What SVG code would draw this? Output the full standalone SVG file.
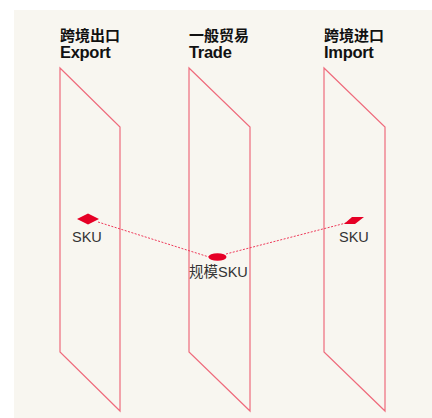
<svg xmlns="http://www.w3.org/2000/svg" width="432" height="418" viewBox="0 0 432 418">
<style>
.plane{fill:none;stroke:#ef6b7c;stroke-width:1.2}
.h{font-family:"Liberation Sans","Noto Sans CJK SC",sans-serif;font-weight:bold;font-size:15px;fill:#111}
.he{font-family:"Liberation Sans","Noto Sans CJK SC",sans-serif;font-weight:bold;font-size:16.5px;fill:#111;letter-spacing:-0.3px}
.lbl{font-family:"Liberation Sans","Noto Sans CJK SC",sans-serif;font-size:14.5px;fill:#333}
.mark{fill:#e60026}
.link{fill:none;stroke:#ee3a5a;stroke-width:1;stroke-dasharray:2,1.5}
</style>
<rect width="432" height="418" fill="#ffffff"/>
<rect x="14" y="10" width="418" height="408" fill="#f8f6f0"/>
<g id="export">
<polygon class="plane" points="60,68 120,127 120,411 60,352"/>
<text class="h" x="60" y="41">跨境出口</text>
<text class="he" x="60" y="58">Export</text>
</g>
<g id="trade">
<polygon class="plane" points="189,68 250,127 250,411 189,352"/>
<text class="h" x="189" y="41">一般贸易</text>
<text class="he" x="189" y="58">Trade</text>
</g>
<g id="import">
<polygon class="plane" points="324,68 385,127 385,411 324,352"/>
<text class="h" x="324" y="41">跨境进口</text>
<text class="he" x="324" y="58">Import</text>
</g>
<g id="connectors">
<line class="link" x1="98" y1="222" x2="209" y2="257"/>
<line class="link" x1="226" y1="254" x2="346" y2="223"/>
</g>
<g id="sku-export">
<polygon class="mark" points="77,219 88,213.5 99,219 88,224.5"/>
<text class="lbl" x="72" y="242">SKU</text>
</g>
<g id="sku-trade">
<ellipse class="mark" cx="217.5" cy="257" rx="9" ry="3.8"/>
<text class="lbl" x="189" y="277">规模SKU</text>
</g>
<g id="sku-import">
<polygon class="mark" points="352,217 364,217 355,224 344,224"/>
<text class="lbl" x="339" y="242">SKU</text>
</g>
</svg>
